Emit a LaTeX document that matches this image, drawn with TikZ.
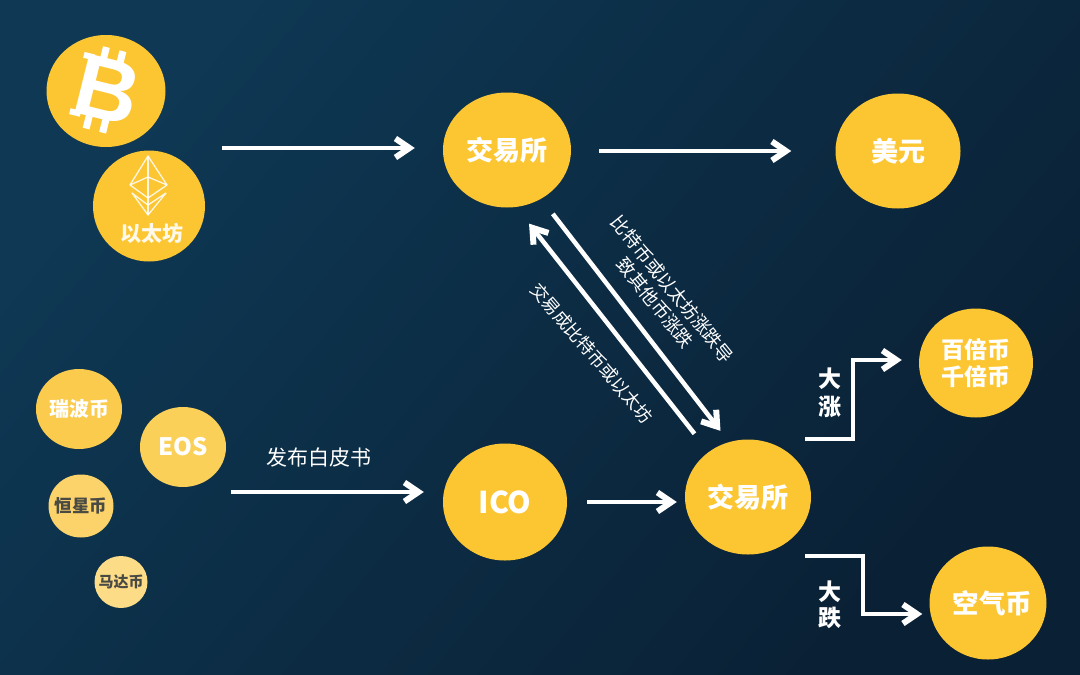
\documentclass[tikz,border=0pt]{standalone}
\usepackage{fontspec}
\setmainfont{Noto Sans CJK SC}
\newfontfamily\markfont{Liberation Sans}
\usetikzlibrary{arrows.meta,shapes.geometric}

\definecolor{bgtop}{HTML}{0E3854}
\definecolor{bgmid}{HTML}{0C2A44}
\definecolor{bglow}{HTML}{0A2034}
\definecolor{coinmain}{HTML}{FCC633}
\definecolor{coinripple}{HTML}{FBCB4E}
\definecolor{coineos}{HTML}{FBD058}
\definecolor{coinstellar}{HTML}{FBD36A}
\definecolor{coinmaid}{HTML}{FCDC87}
\definecolor{coindark}{HTML}{4A4A44}

\begin{document}
\begin{tikzpicture}[x=1pt, y=-1pt,
    coin/.style n args={3}{ellipse, inner sep=0pt, minimum width=#1pt, minimum height=#2pt, fill=#3, text=white},
    cointext/.style={font=\bfseries\fontsize{#1}{#1}\selectfont},
    flow/.style={draw=white, line width=4.5pt, -{Straight Barb[length=14pt, width=19pt, line width=6pt]}},
    note/.style={text=white, align=center, font=\fontsize{#1}{22}\selectfont},
    ethline/.style={draw=white, line width=1.3pt, line join=round, opacity=.85}]

    % Background
    \useasboundingbox (0,0) rectangle (1080,675);
    \shade[left color=bgtop, middle color=bgmid, right color=bglow, shading angle=50] (0,0) rectangle (1080,675);

    % Coins, first row
    \node[coin={119}{112}{coinmain}] (btc) at (106,91) {};
    \node[coin={112}{111}{coinmain}] (eth) at (149,206) {};
    \node[coin={128}{115}{coinmain}, cointext=27] (exTop) at (507,150) {交易所\hspace{6pt}};
    \node[coin={125}{115}{coinmain}, cointext=27] (usd) at (898,151) {美元};

    % Coins, second row
    \node[coin={86}{80}{coinripple}, cointext=20] (xrp) at (79,409) {\makebox[0pt]{瑞波币}};
    \node[coin={86}{80}{coineos}, cointext=24] (eos) at (183,447) {\raisebox{-3pt}{EOS}};
    \node[coin={65}{63}{coinstellar}, cointext=17.5, text=coindark] (xlm) at (81,506) {\makebox[0pt]{恒星币}};
    \node[coin={53}{52}{coinmaid}, cointext=15, text=coindark] (maid) at (121,582) {\makebox[0pt]{马达币}};
    \node[coin={124}{117}{coinmain}, cointext=30] (ico) at (505,502) {\raisebox{-1pt}{ICO}};
    \node[coin={126}{115}{coinmain}, cointext=27] (exLow) at (748,497) {交易所};

    % Results
    \node[coin={114}{109}{coinmain}, cointext=23, align=center] (hundred) at (976,363) {百倍币\\[4pt]千倍币};
    \node[coin={117}{113}{coinmain}, cointext=26.5] (air) at (988,603) {\makebox[0pt]{\hspace*{9pt}空气币}};

    % Bitcoin mark
    \begin{scope}[shift={(105,90)}, rotate=-14]
        \foreach \x in {-9,8} {
            \draw[white, line width=7pt] (\x,-42) -- (\x,-28);
            \draw[white, line width=7pt] (\x,28) -- (\x,42);
        }
        \draw[white, line width=6pt] (-29,-29) -- (-18,-29);
        \draw[white, line width=6pt] (-29,29) -- (-18,29);
        \node[text=white, font=\markfont\bfseries\fontsize{88}{88}\selectfont, rotate=-14] (btcMark) at (2,-1) {B};
    \end{scope}

    % Ethereum mark
    \draw[ethline] (148,156) -- (130,185) -- (148,198) -- (167,185) -- cycle;
    \draw[ethline] (148,156) -- (148,215);
    \draw[ethline] (130,185) -- (148,177) -- (167,185);
    \draw[ethline] (132,193) -- (148,215) -- (166,193) -- (148,205) -- cycle;
    \node[text=white, cointext=21, opacity=.9] (ethLabel) at (152,233) {以太坊};

    % Straight arrows
    \coordinate (coinsTop) at (222,148);
    \coordinate (coinsLow) at (231,492);
    \draw[flow, shorten >=28pt] (coinsTop) -- (coinsTop -| exTop.west);
    \draw[flow, shorten <=28pt, shorten >=44pt] (usd.west -| exTop.east) -- (usd.west);
    \draw[flow, shorten >=19pt] (coinsLow) -- (coinsLow -| ico.west);
    \draw[flow, shorten <=20pt, shorten >=8pt] (ico.east) -- (ico.east -| exLow.west);

    % Arrows between the exchanges
    \draw[flow, shorten <=19pt, shorten >=14pt] (exTop.-55) -- (exLow.109);
    \draw[flow, shorten <=23pt, shorten >=21pt] (exLow.131) -- (exTop.-81);

    % Arrows to the results
    \coordinate (upStart) at (805,439);
    \coordinate (downStart) at (805,556);
    \draw[flow, shorten >=17pt] (upStart) -- (853,439) -- (853,360) -- (hundred.west |- 0,360);
    \draw[flow, shorten >=7pt] (downStart) -- (863,556) -- (863,614) -- (air.west |- 0,614);

    % Labels
    \node[note=21] (whitepaper) at (319,458) {发布白皮书};
    \node[note=18.2, rotate=-51] (noteDown) at (664,296) {比特币或以太坊涨跌导\\致其他币涨跌};
    \node[note=17.7, rotate=-49.5] (noteUp) at (592,353) {交易成比特币或以太坊};
    \node[text=white, align=center, cointext=23] (rise) at (830,393) {大\\[5pt]涨};
    \node[text=white, align=center, cointext=23] (fall) at (830,605) {大\\[3pt]跌};
\end{tikzpicture}
\end{document}
